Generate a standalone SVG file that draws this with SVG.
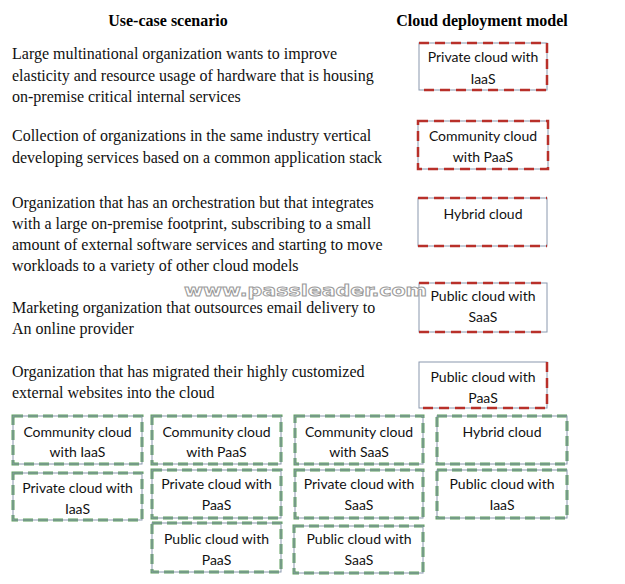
<svg xmlns="http://www.w3.org/2000/svg" width="625" height="584" viewBox="0 0 625 584">
<style>
.hd{font-family:"Liberation Serif","Times New Roman",serif;font-size:16px;font-weight:bold;fill:#000;text-anchor:middle}
.sc{font-family:"Liberation Serif","Times New Roman",serif;font-size:16px;fill:#111}
.bx{font-family:Lato,"Noto Sans",sans-serif;font-size:14px;fill:#111;text-anchor:middle}
.fr{fill:#fff;stroke:#8a98ae;stroke-width:1}
.rd{stroke:#b8302a;stroke-width:2.5;stroke-dasharray:10 6;fill:none}
.gr{fill:#fff;stroke:#5f9f5f;stroke-width:3;stroke-dasharray:10 5}
.gi{fill:none;stroke:#8a98ae;stroke-width:1}
.wm{font-family:"DejaVu Sans",sans-serif;font-size:16px;font-weight:bold;fill:#fff;stroke:#9a9a9a;stroke-width:0.9}
</style>
<rect width="625" height="584" fill="#fff"/>
<text class="hd" x="168" y="26">Use-case scenario</text>
<text class="hd" x="482" y="26">Cloud deployment model</text>

<g id="scenarios">
<text class="sc" x="12" y="59">Large multinational organization wants to improve</text>
<text class="sc" x="12" y="81">elasticity and resource usage of hardware that is housing</text>
<text class="sc" x="12" y="102">on-premise critical internal services</text>
<text class="sc" x="12" y="141">Collection of organizations in the same industry vertical</text>
<text class="sc" x="12" y="163">developing services based on a common application stack</text>
<text class="sc" x="12" y="208">Organization that has an orchestration but that integrates</text>
<text class="sc" x="12" y="229">with a large on-premise footprint, subscribing to a small</text>
<text class="sc" x="12" y="250">amount of external software services and starting to move</text>
<text class="sc" x="12" y="271">workloads to a variety of other cloud models</text>
<text class="sc" x="12" y="313">Marketing organization that outsources email delivery to</text>
<text class="sc" x="12" y="334">An online provider</text>
<text class="sc" x="12" y="377">Organization that has migrated their highly customized</text>
<text class="sc" x="12" y="398">external websites into the cloud</text>
</g>

<g id="t1">
<rect class="fr" x="419" y="43" width="128" height="47"/>
<path class="rd" d="M419 43H547V90H419"/>
<text class="bx" x="483" y="62">Private cloud with</text>
<text class="bx" x="483" y="84">IaaS</text>
</g>
<g id="t2">
<rect class="fr" x="418" y="121" width="130" height="48"/>
<path class="rd" d="M418 121H548V169H418Z"/>
<text class="bx" x="483" y="141">Community cloud</text>
<text class="bx" x="483" y="162">with PaaS</text>
</g>
<g id="t3">
<rect class="fr" x="418" y="198" width="129" height="48"/>
<path class="rd" d="M418 198H547M418 246H547"/>
<text class="bx" x="483" y="219">Hybrid cloud</text>
</g>
<g id="t4">
<rect class="fr" x="419" y="283" width="128" height="49"/>
<path class="rd" d="M419 283H547M419 332H547"/>
<text class="bx" x="483" y="301">Public cloud with</text>
<text class="bx" x="483" y="322">SaaS</text>
</g>
<g id="t5">
<rect class="fr" x="419" y="362" width="128" height="46"/>
<path class="rd" d="M547 362V408H419"/>
<text class="bx" x="483" y="382">Public cloud with</text>
<text class="bx" x="483" y="403">PaaS</text>
</g>

<g id="a1">
<rect class="gr" x="13" y="416" width="129" height="48"/><rect class="gi" x="13" y="416" width="129" height="48"/>
<text class="bx" x="77.5" y="437">Community cloud</text><text class="bx" x="77.5" y="457">with IaaS</text>
</g>
<g id="a2">
<rect class="gr" x="152" y="416" width="129" height="48"/><rect class="gi" x="152" y="416" width="129" height="48"/>
<text class="bx" x="216.5" y="437">Community cloud</text><text class="bx" x="216.5" y="457">with PaaS</text>
</g>
<g id="a3">
<rect class="gr" x="295" y="416" width="128" height="48"/><rect class="gi" x="295" y="416" width="128" height="48"/>
<text class="bx" x="359" y="437">Community cloud</text><text class="bx" x="359" y="457">with SaaS</text>
</g>
<g id="a4">
<rect class="gr" x="437" y="416" width="130" height="48"/><rect class="gi" x="437" y="416" width="130" height="48"/>
<text class="bx" x="502" y="437">Hybrid cloud</text>
</g>
<g id="a5">
<rect class="gr" x="13" y="473" width="129" height="47"/><rect class="gi" x="13" y="473" width="129" height="47"/>
<text class="bx" x="77.5" y="493">Private cloud with</text><text class="bx" x="77.5" y="514">IaaS</text>
</g>
<g id="a6">
<rect class="gr" x="152" y="470" width="129" height="48"/><rect class="gi" x="152" y="470" width="129" height="48"/>
<text class="bx" x="216.5" y="489">Private cloud with</text><text class="bx" x="216.5" y="510">PaaS</text>
</g>
<g id="a7">
<rect class="gr" x="295" y="470" width="128" height="48"/><rect class="gi" x="295" y="470" width="128" height="48"/>
<text class="bx" x="359" y="489">Private cloud with</text><text class="bx" x="359" y="510">SaaS</text>
</g>
<g id="a8">
<rect class="gr" x="437" y="470" width="130" height="48"/><rect class="gi" x="437" y="470" width="130" height="48"/>
<text class="bx" x="502" y="489">Public cloud with</text><text class="bx" x="502" y="510">IaaS</text>
</g>
<g id="a9">
<rect class="gr" x="152" y="523" width="129" height="49"/><rect class="gi" x="152" y="523" width="129" height="49"/>
<text class="bx" x="216.5" y="544">Public cloud with</text><text class="bx" x="216.5" y="565">PaaS</text>
</g>
<g id="a10">
<rect class="gr" x="294" y="526" width="129" height="47"/><rect class="gi" x="294" y="526" width="129" height="47"/>
<text class="bx" x="359" y="544">Public cloud with</text><text class="bx" x="359" y="565">SaaS</text>
</g>

<text class="wm" x="184" y="296" textLength="243" lengthAdjust="spacingAndGlyphs">www.passleader.com</text>
</svg>
